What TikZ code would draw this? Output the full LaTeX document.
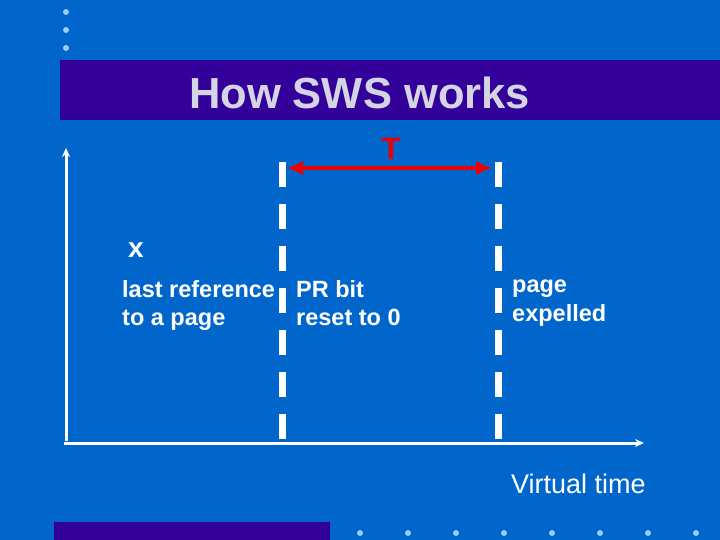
\documentclass[tikz,border=0pt]{standalone}
\usepackage{fontspec}
\setmainfont{Liberation Sans}
\usetikzlibrary{arrows.meta}
\definecolor{bgblue}{HTML}{0066CC}
\definecolor{band}{HTML}{330099}
\definecolor{dotc}{HTML}{99CCFF}
\definecolor{titlec}{HTML}{D4D4E4}
\definecolor{redc}{HTML}{EE0000}
\tikzset{
  bullet/.style={circle,fill=dotc,inner sep=0pt,minimum size=6pt},
  lbl/.style={text=white,font=\bfseries\fontsize{23.5}{28.5}\selectfont,align=left,inner sep=0pt,anchor=north west},
  axis/.style={white,line width=3pt,-{Stealth[length=9pt,width=8pt]}},
  dashline/.style={white,line width=7pt,dash pattern=on 25pt off 17pt},
}
\begin{document}
\begin{tikzpicture}[x=1pt,y=-1pt]
\useasboundingbox (0,0) rectangle (720,540);
\fill[bgblue] (0,0) rectangle (720,540);
% bands
\fill[band] (60,60) rectangle (720,120);
\fill[band] (54,522) rectangle (330,540);
% dots
\foreach \yy in {12,30,48} \node[bullet] at (66,\yy) {};
\foreach \xx in {360,408,456,504,552,600,648,696} \node[bullet] at (\xx,533) {};
% title
\node[text=titlec,font=\bfseries\fontsize{43.5}{48}\selectfont] (title) at (359.5,93) {How SWS works};
% axes
\coordinate (ytop) at (66,148);
\coordinate (xend) at (644,443);
\coordinate (ybot) at (66,441);
\coordinate (xbeg) at (64,443);
\draw[axis] (ybot) -- (ytop);
\draw[axis] (xbeg) -- (xend);
% dashed lines
\coordinate (d1t) at (282,162);
\coordinate (d1b) at (282,440);
\coordinate (d2t) at (498,162);
\coordinate (d2b) at (498,440);
\draw[dashline] (d1t) -- (d1b);
\draw[dashline] (d2t) -- (d2b);
% T arrow
\coordinate (ta) at (287,168);
\coordinate (tb) at (492,168);
\draw[redc,line width=4pt,{Latex[length=16pt,width=15pt]}-{Latex[length=16pt,width=15pt]}] (ta) -- (tb);
\node[text=redc,font=\bfseries\fontsize{31}{36}\selectfont] (T) at (391,149) {T};
% labels
\node[text=white,font=\bfseries\fontsize{28}{30}\selectfont] (x) at (136,250) {x};
\node[lbl] (last) at (122,280) {last reference\\to a page};
\node[lbl] (pr) at (296,280) {PR bit\\reset to 0};
\node[lbl] (page) at (512,280) {page\\expelled};
\node[text=white,font=\fontsize{27}{30}\selectfont,anchor=west,inner sep=0pt] (vt) at (511,484) {Virtual time};
\end{tikzpicture}
\end{document}
